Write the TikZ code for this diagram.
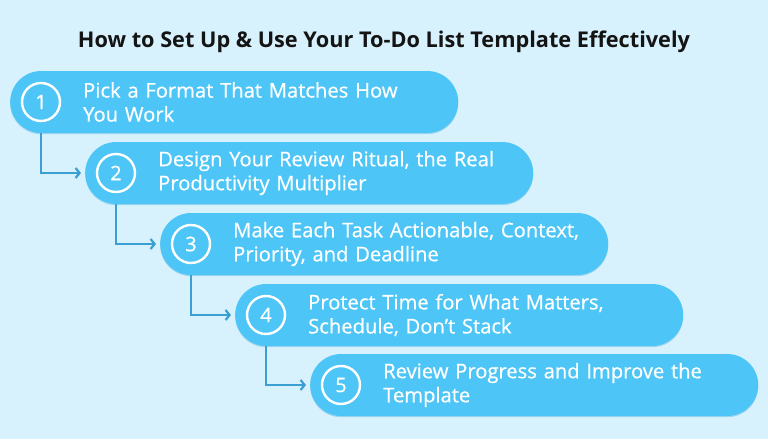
\documentclass[tikz,border=0pt]{standalone}
\usepackage{fontspec}
\setmainfont{Open Sans}
\newfontfamily\stepfont[FakeBold=0.6]{Open Sans}
\usetikzlibrary{
  arrows.meta,
  shapes.misc,
  shadows,
  positioning
}
\definecolor{pagebg}{HTML}{D8F2FD}
\definecolor{pillblue}{HTML}{4DC6F7}
\definecolor{linkblue}{HTML}{3A9FD3}
\definecolor{titleink}{HTML}{141414}

\begin{document}
\begin{tikzpicture}[
      stage/.style={
         rounded rectangle,
         minimum width=448pt,
         minimum height=62pt,
         inner sep=0pt,
         fill=pillblue,
         drop shadow={shadow xshift=0pt,shadow yshift=-1.2pt,opacity=.35,fill=linkblue},
      },
      badge/.style={
         circle,
         minimum size=38pt,
         inner sep=0pt,
         draw=white,line width=2.4pt,
         text=white,
         font=\stepfont\fontsize{20}{20}\selectfont,
      },
      caption/.style={
         anchor=west,
         text width=370pt,
         align=left,
         inner sep=0pt,
         text=white,
         font=\stepfont\fontsize{20.2}{24}\selectfont,
      },
      tip/.style={-{Straight Barb[length=4pt,width=10pt]},line width=2.2pt,draw=linkblue,shorten >=4pt},
    ]
    \fill[pagebg] (0,0) rectangle (768pt,-439pt);
    \useasboundingbox (0,0) rectangle (768pt,-439pt);

    \node (title) [text=titleink, font=\bfseries\fontsize{21.7}{24}\selectfont] at (384pt,-42pt)
       {How to Set Up \& Use Your To-Do List Template Effectively};

    % steps
    \node (s1) [stage, anchor=west] at (10pt,-102pt) {};
    \node (s2) [stage, anchor=west] at ([shift={(75pt,-71pt)}]s1.west) {};
    \node (s3) [stage, anchor=west] at ([shift={(75pt,-71pt)}]s2.west) {};
    \node (s4) [stage, anchor=west] at ([shift={(75pt,-71pt)}]s3.west) {};
    \node (s5) [stage, anchor=west] at ([shift={(75pt,-70pt)}]s4.west) {};

    \node (c1) [badge] at ([xshift=31pt]s1.west) {1};
    \node (c2) [badge] at ([xshift=31pt]s2.west) {2};
    \node (c3) [badge] at ([xshift=31pt]s3.west) {3};
    \node (c4) [badge] at ([xshift=31pt]s4.west) {4};
    \node (c5) [badge] at ([xshift=31pt]s5.west) {5};

    \node (t1) [caption] at ([xshift=73pt]s1.west) {Pick a Format That Matches How\\You Work};
    \node (t2) [caption] at ([xshift=73pt]s2.west) {Design Your Review Ritual, the Real\\Productivity Multiplier};
    \node (t3) [caption] at ([xshift=73pt]s3.west) {Make Each Task Actionable, Context,\\Priority, and Deadline};
    \node (t4) [caption] at ([xshift=73pt]s4.west) {Protect Time for What Matters,\\Schedule, Don’t Stack};
    \node (t5) [caption] at ([xshift=73pt]s5.west) {Review Progress and Improve the\\Template};

    % links
    \draw[tip] (c1 |- s1.south) |- (s2.west);
    \draw[tip] (c2 |- s2.south) |- (s3.west);
    \draw[tip] (c3 |- s3.south) |- (s4.west);
    \draw[tip] (c4 |- s4.south) |- (s5.west);
\end{tikzpicture}
\end{document}
